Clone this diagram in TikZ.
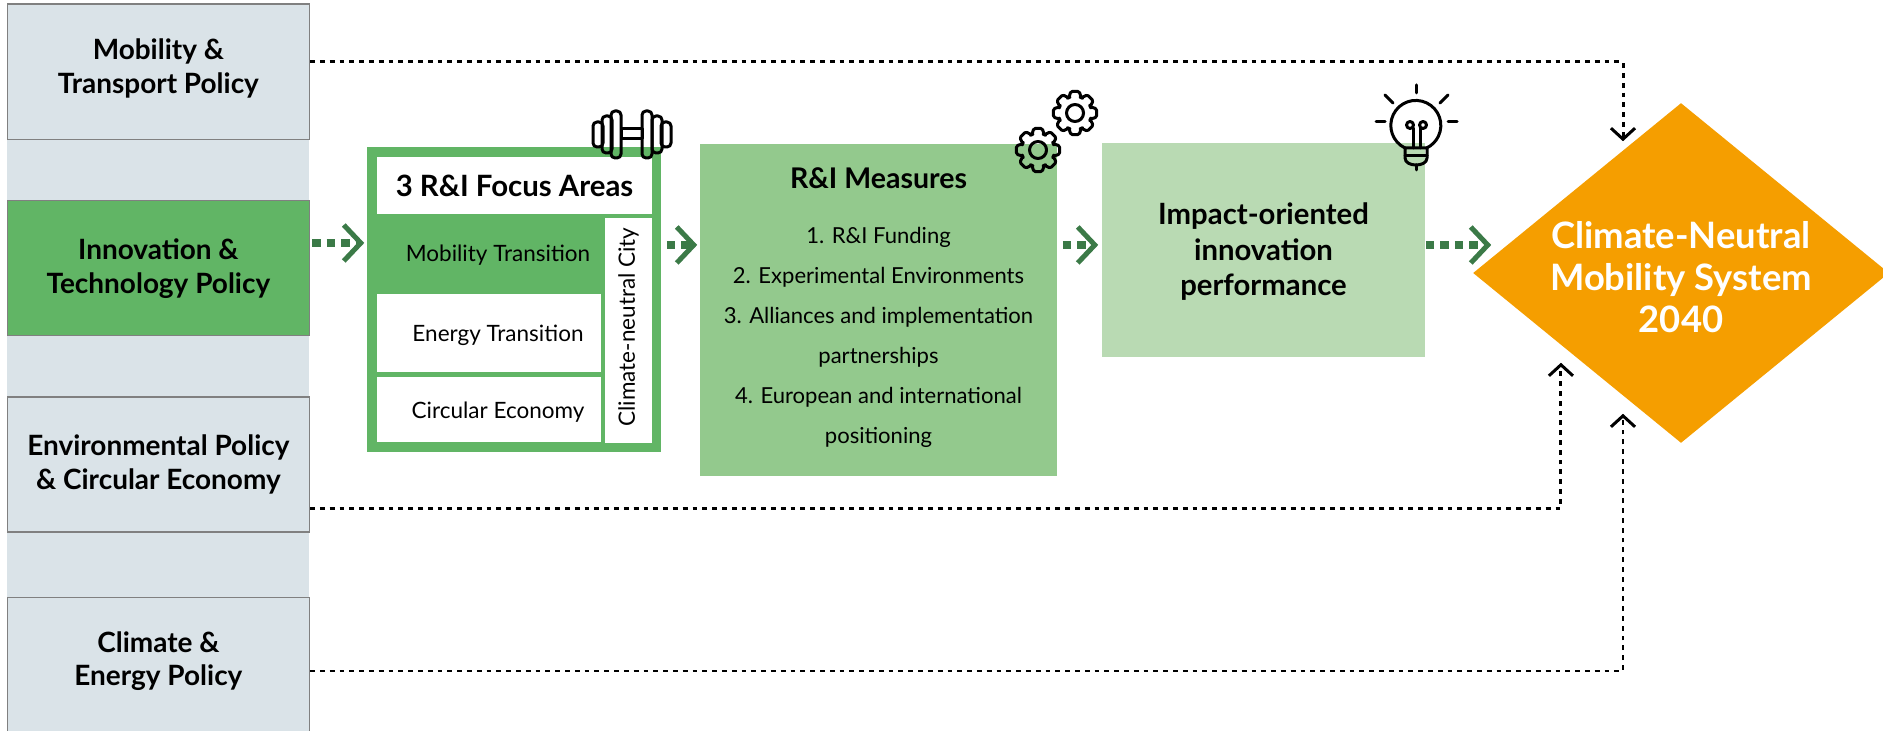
\documentclass[tikz,border=0pt]{standalone}
\usepackage{fontspec}
\setmainfont{Lato}
\usetikzlibrary{arrows.meta,shapes.geometric}

\definecolor{stripgrey}{HTML}{DAE3E8}
\definecolor{policygreen}{HTML}{61B565}
\definecolor{arrowgreen}{HTML}{3B7A47}
\definecolor{measuregreen}{HTML}{93C98D}
\definecolor{impactgreen}{HTML}{B9DAB3}
\definecolor{goalorange}{HTML}{F59E00}

\newcommand{\lifted}[1]{\rule[-#1]{0pt}{#1}}
\newcommand{\lowered}[1]{\rule{0pt}{#1}}

\tikzset{
 policy/.style={draw=black!50, line width=.012cm, fill=stripgrey, minimum width=3.02cm, minimum height=1.35cm, inner sep=0, align=center, font=\fontsize{7.95}{9.6}\selectfont\bfseries},
 whitebox/.style={fill=white, inner sep=0, font=\fontsize{6.4}{8}\selectfont},
 flow/.style={arrowgreen, line width=.075cm, dash pattern=on .085cm off .06cm, -{Straight Barb[length=.17cm,width=.36cm,line width=.05cm]}},
 link/.style={line width=.03cm, dash pattern=on .048cm off .05cm, -{Straight Barb[length=.11cm,width=.24cm,line width=.03cm]}},
 icon/.style={line width=.03cm, line join=round, line cap=round},
 gearicon/.pic={
  \draw[icon, rounded corners=.015cm] (-22:16.5) \foreach \a in {0,45,...,315} { -- (\a-22:16.5) -- (\a-11:22) -- (\a+11:22) -- (\a+22:16.5)} -- cycle;
  \draw[icon] (0,0) circle[radius=.085cm];
 }
}

\begin{document}
\begin{tikzpicture}[x=.01cm, y=-.01cm]
 \useasboundingbox (0,0) rectangle (1883,731);

 % left column
 \fill[stripgrey] (7,4) rectangle (309,731);
 \node[policy] (mobility) at (158.4,71.6) {Mobility \&\\Transport Policy\lifted{.11cm}};
 \node[policy, fill=policygreen] (innovation) at (158.4,268.3) {Innovation \&\\Technology Policy};
 \node[policy] (environment) at (158.4,464.5) {Environmental Policy\\\& Circular Economy};
 \node[policy] (climate) at (158.4,665) {Climate \&\\Energy Policy\lifted{.13cm}};

 % focus areas
 \node[fill=policygreen, minimum width=2.94cm, minimum height=3.05cm] (focusareas) at (514,299.5) {};
 \node[whitebox, minimum width=2.75cm, minimum height=.57cm, font=\fontsize{8.35}{9}\selectfont\bfseries] (focustitle) at (514.5,185.5) {3 R\&I Focus Areas};
 \node[whitebox, fill=none, minimum width=2.24cm, minimum height=.79cm, text depth=0] (mobilitytrans) at (489,253.5) {\hspace{.18cm}Mobility Transition};
 \node[whitebox, minimum width=2.24cm, minimum height=.78cm] (energytrans) at (489,333) {\hspace{.18cm}\lowered{.21cm}Energy Transition};
 \node[whitebox, minimum width=2.24cm, minimum height=.65cm] (circular) at (489,409.5) {\hspace{.18cm}\lowered{.21cm}Circular Economy};
 \node[whitebox, minimum width=.47cm, minimum height=2.25cm, ] (neutralcity) at (628.5,330.5) {\rotatebox{90}{\hspace{.07cm}Climate-neutral City}};

 % measures and impact
 \node[fill=measuregreen, minimum width=3.57cm, minimum height=3.32cm, align=center, inner sep=0, font=\fontsize{6.27}{11.4}\selectfont] (measures) at (878.5,310) {{\fontsize{8.1}{9}\selectfont\bfseries R\&I Measures}\\[.15cm]1. R\&I Funding\\2. Experimental Environments\\3. Alliances and implementation\\partnerships\\4. European and international\\positioning\lifted{.09cm}};
 \node[fill=impactgreen, minimum width=3.23cm, minimum height=2.14cm, align=center, inner sep=0, font=\fontsize{8.33}{10.2}\selectfont\bfseries] (impact) at (1263.5,250) {\lowered{.25cm}Impact-oriented\\innovation\\performance};

 % goal
 \node[diamond, aspect=1.2, fill=goalorange, minimum width=4.16cm, minimum height=3.4cm, inner sep=0] (goal) at (1681,273) {};
 \node[text=white, align=center, inner sep=0, font=\fontsize{10.35}{12}\selectfont\bfseries] (goaltext) at ([yshift=-.04cm]goal) {Climate-Neutral\\Mobility System\\2040};

 % green arrows
 \draw[flow, shorten <=.02cm, shorten >=.02cm] ([yshift=.253cm]innovation.east) -- ([yshift=.253cm]innovation.east -| focusareas.west);
 \draw[flow, shorten <=.05cm, shorten >=.02cm] ([yshift=.545cm]focusareas.east) -- ([yshift=.545cm]focusareas.east -| measures.west);
 \draw[flow, shorten <=.05cm, shorten >=.03cm] ([yshift=.65cm]measures.east) -- ([yshift=.65cm]measures.east -| impact.west);
 \draw[flow] ([yshift=.05cm]impact.east) -- ([shift={(.19cm,.05cm)}]impact.east -| goal.west);

 % dotted links
 \draw[link] ([yshift=.096cm]mobility.east) -| ([shift={(-.58cm,-.39cm)}]goal.north);
 \draw[link] ([yshift=-.435cm]environment.east) -| ([shift={(-1.2cm,.81cm)}]goal.south);
 \draw[link, line width=.018cm] ([yshift=-.06cm]climate.east) -| ([shift={(-.58cm,.3cm)}]goal.south);

 % dumbbell
 \foreach \xa/\xb/\ya/\yb in {593/603/122/147, 602/612/116/153, 611/621/111/158, 642/652/111/158, 652/662/116/153, 661/671/122/147}
  \draw[icon, rounded corners=.04cm] (\xa,\ya) rectangle (\xb,\yb);
 \draw[icon] (621,129) rectangle (642,139);

 % gears
 \pic at (1075,113) {gearicon};
 \pic at (1038,150) {gearicon};

 % bulb
 \draw[icon] (1405,148) arc[start angle=244.4, end angle=-64.4, radius=.25cm];
 \draw[icon] (1405,148) -- (1427,148) -- (1427,158) .. controls (1427,163) and (1421,165) .. (1416,165) .. controls (1411,165) and (1405,163) .. (1405,158) -- cycle;
 \draw[icon] (1405,156) -- (1427,156);
 \draw[icon] (1416,165) -- (1416,170);
 \draw[icon] (1410,125) circle[radius=.035cm] (1423,125) circle[radius=.035cm];
 \draw[icon] (1413,128) -- (1413,148) (1420,128) -- (1420,148);
 \foreach \xa/\ya/\xb/\yb in {1416/85/1416/93, 1440/103/1448/95, 1393/103/1385/95, 1448/122/1457/122, 1376/122/1385/122}
  \draw[icon] (\xa,\ya) -- (\xb,\yb);
\end{tikzpicture}
\end{document}
